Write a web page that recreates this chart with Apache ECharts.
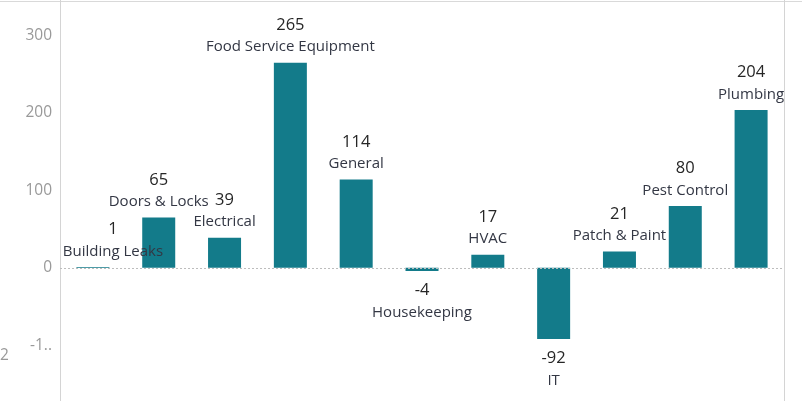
<!DOCTYPE html>
<html>
<head>
<meta charset="utf-8">
<script src="https://cdn.jsdelivr.net/npm/echarts@6/dist/echarts.min.js"></script>
<style>
  html, body { margin: 0; padding: 0; background: #fff; }
  #chart { width: 802px; height: 401px; }
</style>
</head>
<body>
<div id="chart"></div>
<script>
// Net change in work orders by category
const categories = [
  'Building Leaks', 'Doors & Locks', 'Electrical', 'Food Service Equipment',
  'General', 'Housekeeping', 'HVAC', 'IT', 'Patch & Paint', 'Pest Control', 'Plumbing'
];
const values = [1, 65, 39, 265, 114, -4, 17, -92, 21, 80, 204];
const yTicks = [-100, 0, 100, 200, 300];

// visible value window of the pane
const yMin = -172;
const yMax = 346;

const chart = echarts.init(document.getElementById('chart'), null, { renderer: 'canvas' });

const fontFamily = '"Open Sans", "Noto Sans", sans-serif';

chart.setOption({
  animation: false,
  backgroundColor: '#ffffff',
  grid: { left: 60, right: 18, top: 0, bottom: 0, containLabel: false },
  xAxis: {
    type: 'category',
    data: categories,
    axisLine: { show: false },
    axisTick: { show: false },
    axisLabel: { show: false },
    splitLine: { show: false }
  },
  yAxis: {
    type: 'value',
    min: yMin,
    max: yMax,
    axisLine: { show: true, lineStyle: { color: '#d4d4d4', width: 1 } },
    axisTick: { show: false },
    splitLine: { show: false },
    axisLabel: {
      customValues: yTicks,
      color: '#999999',
      fontSize: 15.5,
      fontFamily: fontFamily,
      margin: 8,
      formatter: v => (v === -100 ? '-1..' : String(v))
    }
  },
  series: [{
    type: 'bar',
    data: values.map((v, i) => ({
      value: v,
      label: {
        show: true,
        position: v >= 0 ? 'top' : 'bottom',
        distance: v >= 0 ? 5 : 8,
        // keep the first label inside the pane's left edge
        offset: i === 0 ? [20, 0] : [0, 0],
        formatter: p => '{v|' + p.value + '}\n{n|' + p.name + '}',
        rich: {
          v: { fontSize: 16.5, color: '#262626', fontFamily: fontFamily, lineHeight: 23, align: 'center' },
          n: { fontSize: 15, color: '#333744', fontFamily: fontFamily, lineHeight: 21, align: 'center' }
        }
      }
    })),
    barWidth: 33,
    itemStyle: { color: '#137b8a' },
    markLine: {
      silent: true,
      symbol: 'none',
      label: { show: false },
      lineStyle: { color: '#bdbdbd', type: [2, 2], width: 1 },
      data: [{ yAxis: 0 }]
    }
  }],
  graphic: [
    { type: 'line', shape: { x1: 0, y1: 1.5, x2: 802, y2: 1.5 }, style: { stroke: '#d9d9d9', lineWidth: 1 } },
    { type: 'line', shape: { x1: 784.5, y1: 0, x2: 784.5, y2: 401 }, style: { stroke: '#d4d4d4', lineWidth: 1 } },
    { type: 'text', left: 0, top: 348, style: { text: '2', fill: '#999999', font: '15.5px ' + fontFamily } }
  ]
});
</script>
</body>
</html>
